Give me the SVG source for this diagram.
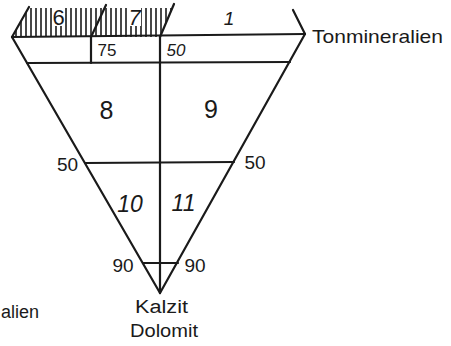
<svg xmlns="http://www.w3.org/2000/svg" width="451" height="346" viewBox="0 0 451 346">
<style>
  .ln { stroke:#1a1a1a; stroke-width:2.2; fill:none; stroke-linecap:round; }
  .ht { stroke:#1a1a1a; stroke-width:1.6; }
  text { font-family:"Liberation Sans","DejaVu Sans",sans-serif; fill:#1a1a1a; }
  .bg { fill:#ffffff; }
</style>
<defs>
  <clipPath id="hatchClip">
    <polygon points="12,37 29,7 174,5 160,37"/>
  </clipPath>
</defs>
<rect width="451" height="346" fill="#ffffff"/>

<g id="hatch" clip-path="url(#hatchClip)">
  <g class="ht">
    <line x1="16" y1="8" x2="16" y2="37"/><line x1="21" y1="8" x2="21" y2="37"/><line x1="26" y1="8" x2="26" y2="37"/>
    <line x1="31" y1="8" x2="31" y2="37"/><line x1="36" y1="8" x2="36" y2="37"/><line x1="41" y1="8" x2="41" y2="37"/>
    <line x1="46" y1="8" x2="46" y2="37"/><line x1="51" y1="8" x2="51" y2="37"/><line x1="56" y1="8" x2="56" y2="37"/>
    <line x1="61" y1="8" x2="61" y2="37"/><line x1="66" y1="8" x2="66" y2="37"/><line x1="71" y1="8" x2="71" y2="37"/>
    <line x1="76" y1="8" x2="76" y2="37"/><line x1="81" y1="8" x2="81" y2="37"/><line x1="86" y1="8" x2="86" y2="37"/>
    <line x1="91" y1="8" x2="91" y2="37"/><line x1="96" y1="8" x2="96" y2="37"/><line x1="101" y1="8" x2="101" y2="37"/>
    <line x1="106" y1="8" x2="106" y2="37"/><line x1="111" y1="8" x2="111" y2="37"/><line x1="116" y1="8" x2="116" y2="37"/>
    <line x1="121" y1="8" x2="121" y2="37"/><line x1="126" y1="8" x2="126" y2="37"/><line x1="131" y1="8" x2="131" y2="37"/>
    <line x1="136" y1="8" x2="136" y2="37"/><line x1="141" y1="8" x2="141" y2="37"/><line x1="146" y1="8" x2="146" y2="37"/>
    <line x1="151" y1="8" x2="151" y2="37"/><line x1="156" y1="8" x2="156" y2="37"/><line x1="161" y1="8" x2="161" y2="37"/>
    <line x1="166" y1="8" x2="166" y2="37"/><line x1="171" y1="8" x2="171" y2="37"/>
  </g>
  <rect class="bg" x="52" y="8" width="13" height="18"/>
  <rect class="bg" x="128" y="8" width="13" height="18"/>
</g>

<g id="connectors">
  <line class="ln" x1="12" y1="37" x2="29" y2="7"/>
  <line class="ln" x1="91" y1="37" x2="106" y2="5"/>
  <line class="ln" x1="160" y1="37" x2="174" y2="4"/>
  <line class="ln" x1="293" y1="10" x2="305" y2="34"/>
  <line class="ln" x1="12" y1="37" x2="305" y2="34"/>
  <line class="ln" x1="27" y1="63" x2="290" y2="62"/>
  <line class="ln" x1="91" y1="37" x2="91" y2="63"/>
  <line class="ln" x1="12" y1="37" x2="160" y2="293"/>
  <line class="ln" x1="305" y1="34" x2="160" y2="293"/>
  <line class="ln" x1="160" y1="36" x2="160" y2="293"/>
  <line class="ln" x1="85" y1="163" x2="234" y2="162"/>
  <line class="ln" x1="143" y1="263" x2="178" y2="263"/>
</g>

<g id="field-6"><text x="58.5" y="24.5" font-size="22" text-anchor="middle">6</text></g>
<g id="field-7"><text x="134.5" y="24.5" font-size="22" text-anchor="middle" font-style="italic">7</text></g>
<g id="field-1"><text x="229" y="25" font-size="19" text-anchor="middle" font-style="italic">1</text></g>
<g id="label-75"><text x="107" y="55.5" font-size="17" text-anchor="middle">75</text></g>
<g id="label-50-top"><text x="176" y="55.5" font-size="17" text-anchor="middle" font-style="italic">50</text></g>
<g id="label-ton"><text x="312" y="43" font-size="19" textLength="131" lengthAdjust="spacingAndGlyphs">Tonmineralien</text></g>
<g id="field-8"><text x="106.5" y="118.5" font-size="25" text-anchor="middle">8</text></g>
<g id="field-9"><text x="211" y="117.5" font-size="25" text-anchor="middle">9</text></g>
<g id="label-50-left"><text x="67.5" y="171" font-size="19" text-anchor="middle">50</text></g>
<g id="label-50-right"><text x="255" y="169" font-size="19" text-anchor="middle">50</text></g>
<g id="field-10"><text x="130" y="212" font-size="23" text-anchor="middle" font-style="italic">10</text></g>
<g id="field-11"><text x="183.5" y="211" font-size="23" text-anchor="middle" font-style="italic">11</text></g>
<g id="label-90-left"><text x="123" y="272" font-size="19" text-anchor="middle">90</text></g>
<g id="label-90-right"><text x="195" y="272" font-size="19" text-anchor="middle">90</text></g>
<g id="label-kalzit">
  <text x="135" y="313" font-size="18" textLength="53" lengthAdjust="spacingAndGlyphs">Kalzit</text>
  <text x="130" y="337" font-size="19" textLength="68" lengthAdjust="spacingAndGlyphs">Dolomit</text>
</g>
<g id="label-left"><text x="1" y="318" font-size="18">alien</text></g>
</svg>
